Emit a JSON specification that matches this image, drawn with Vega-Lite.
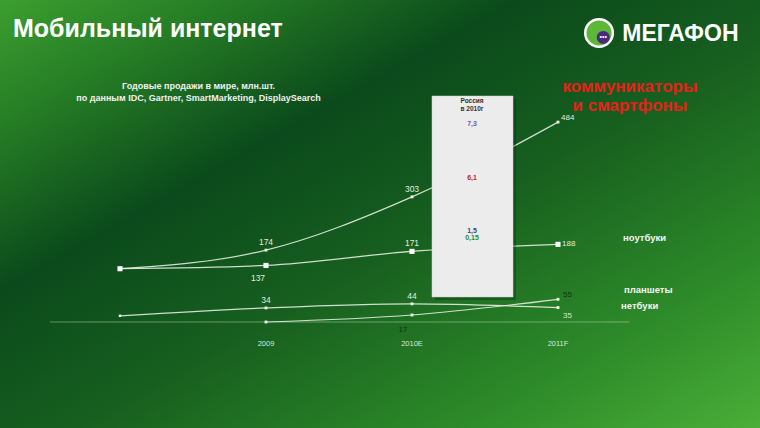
{
  "$schema": "https://vega.github.io/schema/vega-lite/v6.json",
  "width": 760,
  "height": 428,
  "autosize": {"type": "fit", "contains": "padding"},
  "padding": 0,
  "config": {
    "view": {
      "stroke": null,
      "fill": {"gradient": "linear", "x1": 0, "y1": 0, "x2": 1, "y2": 1,
        "stops": [
          {"offset": 0, "color": "#3c9e30"},
          {"offset": 0.14, "color": "#277f26"},
          {"offset": 0.34, "color": "#0b4a1c"},
          {"offset": 0.55, "color": "#175f1f"},
          {"offset": 0.8, "color": "#2d8a29"},
          {"offset": 1, "color": "#4aae38"}
        ]}
    },
    "font": "Liberation Sans",
    "text": {"font": "Liberation Sans"}
  },
  "datasets": {
    "sales": [
      {"series": "коммуникаторы и смартфоны", "p": 0, "year": "2008", "v": 129},
      {"series": "коммуникаторы и смартфоны", "p": 1, "year": "2009", "v": 174},
      {"series": "коммуникаторы и смартфоны", "p": 2, "year": "2010E", "v": 303},
      {"series": "коммуникаторы и смартфоны", "p": 3, "year": "2011F", "v": 484},
      {"series": "ноутбуки", "p": 0, "year": "2008", "v": 129},
      {"series": "ноутбуки", "p": 1, "year": "2009", "v": 137},
      {"series": "ноутбуки", "p": 2, "year": "2010E", "v": 171},
      {"series": "ноутбуки", "p": 3, "year": "2011F", "v": 188},
      {"series": "нетбуки", "p": 0, "year": "2008", "v": 15},
      {"series": "нетбуки", "p": 1, "year": "2009", "v": 34},
      {"series": "нетбуки", "p": 2, "year": "2010E", "v": 44},
      {"series": "нетбуки", "p": 3, "year": "2011F", "v": 35},
      {"series": "планшеты", "p": 1, "year": "2009", "v": 0},
      {"series": "планшеты", "p": 2, "year": "2010E", "v": 17},
      {"series": "планшеты", "p": 3, "year": "2011F", "v": 55}
    ],
    "years": [
      {"p": 1, "year": "2009"},
      {"p": 2, "year": "2010E"},
      {"p": 3, "year": "2011F"}
    ],
    "one": [{"k": 1}]
  },
  "layer": [
    {
      "data": {"name": "one"},
      "mark": {"type": "rule", "color": "#cfe8c8", "strokeWidth": 0.8, "opacity": 0.55},
      "encoding": {
        "x": {"datum": -0.48, "type": "quantitative", "scale": {"domain": [-0.8219, 4.3836], "nice": false, "zero": false}, "axis": null},
        "x2": {"datum": 3.49},
        "y": {"datum": 0, "type": "quantitative", "scale": {"domain": [-256.66, 779.66], "nice": false, "zero": false}, "axis": null}
      }
    },
    {
      "data": {"name": "sales"},
      "mark": {"type": "line", "interpolate": "monotone", "color": "#eef6ea", "strokeWidth": 1.2, "opacity": 0.85},
      "encoding": {
        "x": {"field": "p", "type": "quantitative", "scale": {"domain": [-0.8219, 4.3836], "nice": false, "zero": false}, "axis": null},
        "y": {"field": "v", "type": "quantitative", "scale": {"domain": [-256.66, 779.66], "nice": false, "zero": false}, "axis": null},
        "detail": {"field": "series"}
      }
    },
    {
      "data": {"name": "sales"},
      "transform": [{"filter": "datum.series === 'ноутбуки'"}],
      "mark": {"type": "point", "shape": "square", "filled": true, "color": "#ffffff", "size": 26, "opacity": 1},
      "encoding": {
        "x": {"field": "p", "type": "quantitative"},
        "y": {"field": "v", "type": "quantitative"}
      }
    },
    {
      "data": {"name": "sales"},
      "transform": [{"filter": "datum.series !== 'ноутбуки' && datum.p > 0"}],
      "mark": {"type": "point", "shape": "square", "filled": true, "color": "#f2f8ee", "size": 8, "opacity": 1},
      "encoding": {
        "x": {"field": "p", "type": "quantitative"},
        "y": {"field": "v", "type": "quantitative"}
      }
    },
    {
      "data": {"name": "sales"},
      "transform": [{"filter": "datum.series === 'нетбуки' && datum.p === 0"}],
      "mark": {"type": "point", "shape": "square", "filled": true, "color": "#f2f8ee", "size": 6, "opacity": 1},
      "encoding": {
        "x": {"field": "p", "type": "quantitative"},
        "y": {"field": "v", "type": "quantitative"}
      }
    },
    {
      "data": {"name": "one"},
      "mark": {"type": "rect", "color": "#0a2a10", "opacity": 0.35},
      "encoding": {"x": {"datum": 2.157, "type": "quantitative"}, "x2": {"datum": 2.712}, "y": {"datum": 540, "type": "quantitative"}, "y2": {"datum": 53}}
    },
    {
      "data": {"name": "one"},
      "mark": {"type": "rect", "color": "#ececec", "stroke": "#d0d0d0", "strokeWidth": 0.5},
      "encoding": {"x": {"datum": 2.137, "type": "quantitative"}, "x2": {"datum": 2.692}, "y": {"datum": 547.2, "type": "quantitative"}, "y2": {"datum": 60.5}}
    },
    {
      "data": {"name": "one"},
      "mark": {"type": "text", "text": ["Россия", "в 2010г"], "fontSize": 6.5, "fontWeight": "bold", "color": "#333333", "lineHeight": 7.5, "baseline": "middle"},
      "encoding": {"x": {"datum": 2.411, "type": "quantitative"}, "y": {"datum": 535, "type": "quantitative"}}
    },
    {
      "data": {"name": "one"},
      "mark": {"type": "text", "text": "7,3", "fontSize": 7, "fontWeight": "bold", "color": "#7059ad", "baseline": "middle"},
      "encoding": {"x": {"datum": 2.411, "type": "quantitative"}, "y": {"datum": 479, "type": "quantitative"}}
    },
    {
      "data": {"name": "one"},
      "mark": {"type": "text", "text": "6,1", "fontSize": 7, "fontWeight": "bold", "color": "#c0282a", "baseline": "middle"},
      "encoding": {"x": {"datum": 2.411, "type": "quantitative"}, "y": {"datum": 349, "type": "quantitative"}}
    },
    {
      "data": {"name": "one"},
      "mark": {"type": "text", "text": "1,5", "fontSize": 7, "fontWeight": "bold", "color": "#3a4a6a", "baseline": "middle"},
      "encoding": {"x": {"datum": 2.411, "type": "quantitative"}, "y": {"datum": 220, "type": "quantitative"}}
    },
    {
      "data": {"name": "one"},
      "mark": {"type": "text", "text": "0,15", "fontSize": 7, "fontWeight": "bold", "color": "#2e8a2e", "baseline": "middle"},
      "encoding": {"x": {"datum": 2.411, "type": "quantitative"}, "y": {"datum": 203, "type": "quantitative"}}
    },
    {
      "data": {"name": "sales"},
      "transform": [{"filter": "datum.p > 0 && ((datum.series === 'коммуникаторы и смартфоны' && datum.p < 3) || (datum.series === 'ноутбуки' && datum.p === 2) || (datum.series === 'нетбуки' && datum.p < 3))"}],
      "mark": {"type": "text", "fontSize": 8.5, "color": "#e2ecdc", "dy": -8, "baseline": "middle"},
      "encoding": {"x": {"field": "p", "type": "quantitative"}, "y": {"field": "v", "type": "quantitative"}, "text": {"field": "v"}}
    },
    {
      "data": {"name": "sales"},
      "transform": [{"filter": "datum.series === 'ноутбуки' && datum.p === 1"}],
      "mark": {"type": "text", "fontSize": 8.5, "color": "#e2ecdc", "dx": -8, "dy": 13, "baseline": "middle"},
      "encoding": {"x": {"field": "p", "type": "quantitative"}, "y": {"field": "v", "type": "quantitative"}, "text": {"field": "v"}}
    },
    {
      "data": {"name": "sales"},
      "transform": [{"filter": "datum.series === 'коммуникаторы и смартфоны' && datum.p === 3"}],
      "mark": {"type": "text", "fontSize": 8, "color": "#e2ecdc", "dx": 3, "dy": -4, "align": "left", "baseline": "middle"},
      "encoding": {"x": {"field": "p", "type": "quantitative"}, "y": {"field": "v", "type": "quantitative"}, "text": {"field": "v"}}
    },
    {
      "data": {"name": "sales"},
      "transform": [{"filter": "datum.series === 'ноутбуки' && datum.p === 3"}],
      "mark": {"type": "text", "fontSize": 8, "color": "#e2ecdc", "dx": 4, "align": "left", "baseline": "middle"},
      "encoding": {"x": {"field": "p", "type": "quantitative"}, "y": {"field": "v", "type": "quantitative"}, "text": {"field": "v"}}
    },
    {
      "data": {"name": "sales"},
      "transform": [{"filter": "datum.series === 'нетбуки' && datum.p === 3"}],
      "mark": {"type": "text", "fontSize": 8, "color": "#d8e6d0", "dx": 5, "dy": 8, "align": "left", "baseline": "middle"},
      "encoding": {"x": {"field": "p", "type": "quantitative"}, "y": {"field": "v", "type": "quantitative"}, "text": {"field": "v"}}
    },
    {
      "data": {"name": "sales"},
      "transform": [{"filter": "datum.series === 'планшеты' && datum.p === 3"}],
      "mark": {"type": "text", "fontSize": 8, "color": "#10301a", "dx": 5, "dy": -4, "align": "left", "baseline": "middle"},
      "encoding": {"x": {"field": "p", "type": "quantitative"}, "y": {"field": "v", "type": "quantitative"}, "text": {"field": "v"}}
    },
    {
      "data": {"name": "sales"},
      "transform": [{"filter": "datum.series === 'планшеты' && datum.p === 2"}],
      "mark": {"type": "text", "fontSize": 8, "color": "#10301a", "dx": -9, "dy": 15, "baseline": "middle"},
      "encoding": {"x": {"field": "p", "type": "quantitative"}, "y": {"field": "v", "type": "quantitative"}, "text": {"field": "v"}}
    },
    {
      "data": {"name": "years"},
      "mark": {"type": "text", "fontSize": 7.5, "color": "#dce8d6", "baseline": "middle"},
      "encoding": {"x": {"field": "p", "type": "quantitative"}, "y": {"datum": -53.3, "type": "quantitative"}, "text": {"field": "year"}}
    },
    {
      "data": {"name": "one"},
      "mark": {"type": "text", "text": "Мобильный интернет", "fontSize": 25, "fontWeight": "bold", "color": "#ffffff", "align": "left", "baseline": "alphabetic"},
      "encoding": {"x": {"datum": -0.733, "type": "quantitative"}, "y": {"datum": 690, "type": "quantitative"}}
    },
    {
      "data": {"name": "one"},
      "mark": {"type": "text", "text": ["Годовые продажи в мире, млн.шт.", "по данным IDC, Gartner, SmartMarketing, DisplaySearch"], "fontSize": 9, "fontWeight": "bold", "color": "#f0f0f0", "lineHeight": 12, "baseline": "middle"},
      "encoding": {"x": {"datum": 0.538, "type": "quantitative"}, "y": {"datum": 571.4, "type": "quantitative"}}
    },
    {
      "data": {"name": "one"},
      "mark": {"type": "text", "text": ["коммуникаторы", "и смартфоны"], "fontSize": 17, "fontWeight": "bold", "color": "#e3231b", "lineHeight": 19, "baseline": "middle"},
      "encoding": {"x": {"datum": 3.493, "type": "quantitative"}, "y": {"datum": 569, "type": "quantitative"}}
    },
    {
      "data": {"name": "one"},
      "mark": {"type": "text", "text": "ноутбуки", "fontSize": 9.5, "fontWeight": "bold", "color": "#f4f4f4", "align": "left", "baseline": "middle"},
      "encoding": {"x": {"datum": 3.445, "type": "quantitative"}, "y": {"datum": 203.4, "type": "quantitative"}}
    },
    {
      "data": {"name": "one"},
      "mark": {"type": "text", "text": "планшеты", "fontSize": 9.5, "fontWeight": "bold", "color": "#f4f4f4", "align": "left", "baseline": "middle"},
      "encoding": {"x": {"datum": 3.452, "type": "quantitative"}, "y": {"datum": 77.5, "type": "quantitative"}}
    },
    {
      "data": {"name": "one"},
      "mark": {"type": "text", "text": "нетбуки", "fontSize": 9.5, "fontWeight": "bold", "color": "#f4f4f4", "align": "left", "baseline": "middle"},
      "encoding": {"x": {"datum": 3.432, "type": "quantitative"}, "y": {"datum": 38.7, "type": "quantitative"}}
    },
    {
      "data": {"name": "one"},
      "mark": {"type": "point", "shape": "circle", "filled": true, "color": "#5db83a", "stroke": "#ffffff", "strokeWidth": 2.5, "size": 760, "opacity": 1},
      "encoding": {"x": {"datum": 3.281, "type": "quantitative"}, "y": {"datum": 699.8, "type": "quantitative"}}
    },
    {
      "data": {"name": "one"},
      "mark": {"type": "point", "shape": "circle", "filled": true, "color": "#4a2a7a", "size": 170, "opacity": 1},
      "encoding": {"x": {"datum": 3.31, "type": "quantitative"}, "y": {"datum": 689, "type": "quantitative"}}
    },
    {
      "data": {"name": "one"},
      "mark": {"type": "text", "text": "•••", "fontSize": 7, "color": "#ffffff", "baseline": "middle"},
      "encoding": {"x": {"datum": 3.31, "type": "quantitative"}, "y": {"datum": 689, "type": "quantitative"}}
    },
    {
      "data": {"name": "one"},
      "mark": {"type": "text", "text": "МЕГАФОН", "fontSize": 23, "fontWeight": "bold", "color": "#ffffff", "align": "left", "baseline": "middle"},
      "encoding": {"x": {"datum": 3.44, "type": "quantitative"}, "y": {"datum": 697, "type": "quantitative"}}
    }
  ]
}
